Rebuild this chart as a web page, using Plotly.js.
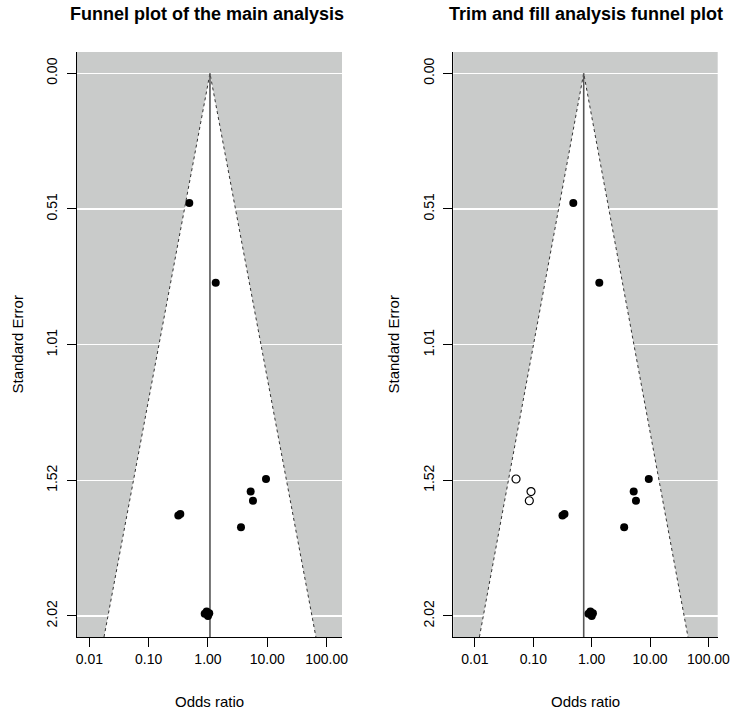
<!DOCTYPE html>
<html>
<head>
<meta charset="utf-8">
<script src="https://cdn.plot.ly/plotly-3.0.1.min.js"></script>
<style>html,body{margin:0;padding:0;background:#fff;}#chart{width:734px;height:714px;}</style>
</head>
<body>
<div id="chart"></div>
<script>
// ---- data ----
const studyOR = [0.484, 1.35, 9.50, 5.24, 5.73, 3.60, 0.316, 0.342, 0.88, 0.95, 1.00, 1.05];
const studySE = [0.483, 0.780, 1.510, 1.557, 1.591, 1.690, 1.646, 1.640, 2.012, 2.003, 2.020, 2.010];
const filledOR = [0.0506, 0.0914, 0.0855];
const filledSE = [1.510, 1.557, 1.591];
const mainEstimate = 1.08;
const trimFillEstimate = 0.73;
const seTickVals = [0, 0.505, 1.01, 1.515, 2.02];
const seTickText = ['0.00', '0.51', '1.01', '1.52', '2.02'];
const orTickVals = [0.01, 0.1, 1, 10, 100];
const orTickText = ['0.01', '0.10', '1.00', '10.00', '100.00'];

const W = 734, H = 714;
const px = v => v / W, py = v => 1 - v / H;
const seRange = [2.0982, -0.0793];
const seBottom = seRange[0];
const GRAY = 'rgb(201,203,202)';
const FONT = 'Liberation Sans, Arial, Helvetica, sans-serif';

function funnelTraces(est, xa, ya) {
  const lo = est * Math.exp(-1.96 * seBottom);
  const hi = est * Math.exp(1.96 * seBottom);
  return [
    {x: [lo, est, hi, lo], y: [seBottom, 0, seBottom, seBottom], xaxis: xa, yaxis: ya,
     type: 'scatter', mode: 'lines', fill: 'toself', fillcolor: '#ffffff',
     line: {width: 0, color: 'rgba(0,0,0,0)'}, hoverinfo: 'skip', showlegend: false},
    {x: [lo, est, hi], y: [seBottom, 0, seBottom], xaxis: xa, yaxis: ya,
     type: 'scatter', mode: 'lines', line: {color: '#333', width: 1, dash: 'dot'},
     hoverinfo: 'skip', showlegend: false},
    {x: [est, est], y: [0, seBottom], xaxis: xa, yaxis: ya, type: 'scatter', mode: 'lines',
     line: {color: '#555', width: 1.6}, hoverinfo: 'skip', showlegend: false}
  ];
}

const data = [
  ...funnelTraces(mainEstimate, 'x', 'y'),
  {x: studyOR, y: studySE, xaxis: 'x', yaxis: 'y', type: 'scatter', mode: 'markers',
   marker: {color: '#000', size: 8, line: {width: 0}}, showlegend: false},
  ...funnelTraces(trimFillEstimate, 'x2', 'y2'),
  {x: studyOR, y: studySE, xaxis: 'x2', yaxis: 'y2', type: 'scatter', mode: 'markers',
   marker: {color: '#000', size: 8, line: {width: 0}}, showlegend: false},
  {x: filledOR, y: filledSE, xaxis: 'x2', yaxis: 'y2', type: 'scatter', mode: 'markers',
   marker: {color: '#fff', size: 8, line: {width: 1.2, color: '#000'}}, showlegend: false}
];

function xAxis(domain, range, anchor) {
  return {domain: domain, anchor: anchor, type: 'log', range: range,
    tickvals: orTickVals, ticktext: orTickText, ticks: 'outside', ticklen: 9, tickwidth: 1,
    tickcolor: '#000', showgrid: false, zeroline: false, showline: true, linecolor: '#000',
    linewidth: 1, tickfont: {size: 14, color: '#000', family: FONT}, fixedrange: true};
}
function yAxis(domain, anchor) {
  return {domain: domain, anchor: anchor, range: seRange, tickvals: seTickVals, ticktext: seTickText,
    ticks: 'outside', ticklen: 9, tickwidth: 1, tickcolor: '#000', tickangle: -90,
    ticklabelstandoff: 4,
    showgrid: true, gridcolor: '#ffffff', gridwidth: 1.5, zeroline: false,
    showline: true, linecolor: '#000', linewidth: 1,
    tickfont: {size: 14, color: '#000', family: FONT}, fixedrange: true};
}

const yDom = [py(637), py(52)];
const layout = {
  width: W, height: H,
  margin: {l: 0, r: 0, t: 0, b: 0},
  paper_bgcolor: '#fff', plot_bgcolor: GRAY,
  font: {family: FONT, color: '#000'},
  xaxis: xAxis([px(77), px(342)], [-2.208, 2.259], 'y'),
  yaxis: yAxis(yDom, 'x'),
  xaxis2: xAxis([px(453.3), px(717.7)], [-2.370, 2.158], 'y2'),
  yaxis2: yAxis(yDom, 'x2'),
  annotations: [
    {text: '<b>Funnel plot of the main analysis</b>', x: px(207), y: py(14), xref: 'paper', yref: 'paper',
     showarrow: false, font: {size: 18, family: FONT}, xanchor: 'center', yanchor: 'middle'},
    {text: '<b>Trim and fill analysis funnel plot</b>', x: px(586), y: py(14), xref: 'paper', yref: 'paper',
     showarrow: false, font: {size: 18, family: FONT}, xanchor: 'center', yanchor: 'middle'},
    {text: 'Odds ratio', x: px(209.5), y: py(701), xref: 'paper', yref: 'paper', showarrow: false,
     font: {size: 15, family: FONT}, xanchor: 'center', yanchor: 'middle'},
    {text: 'Odds ratio', x: px(585.5), y: py(701), xref: 'paper', yref: 'paper', showarrow: false,
     font: {size: 15, family: FONT}, xanchor: 'center', yanchor: 'middle'},
    {text: 'Standard Error', x: px(17), y: py(344.5), xref: 'paper', yref: 'paper', showarrow: false,
     textangle: -90, font: {size: 15, family: FONT}, xanchor: 'center', yanchor: 'middle'},
    {text: 'Standard Error', x: px(393), y: py(344.5), xref: 'paper', yref: 'paper', showarrow: false,
     textangle: -90, font: {size: 15, family: FONT}, xanchor: 'center', yanchor: 'middle'}
  ]
};

Plotly.newPlot('chart', data, layout, {displayModeBar: false, staticPlot: true});
</script>
</body>
</html>
